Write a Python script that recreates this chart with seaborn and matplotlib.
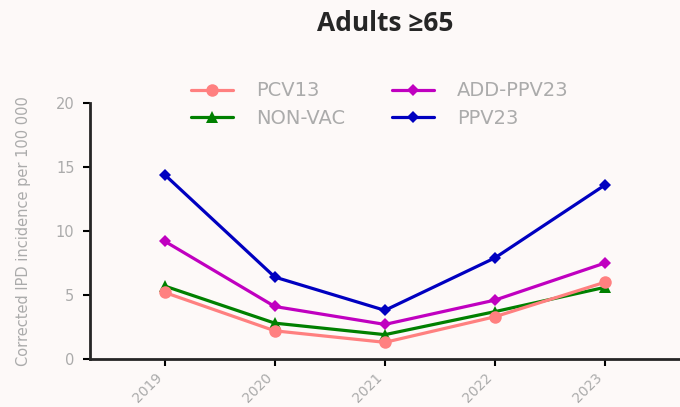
import pandas as pd
import numpy as np
import matplotlib
matplotlib.use("Agg")
import matplotlib.pyplot as plt
import seaborn as sns

# ─────────────────────────────────────────────
# Données
# ─────────────────────────────────────────────
years = [2019, 2020, 2021, 2022, 2023]
year_labels = ["2019", "2020", "2021", "2022", "2023"]
pcv13 = [5.2, 2.2, 1.3, 3.3, 6.0]
non_vac = [5.7, 2.8, 1.9, 3.7, 5.6]
add_ppv23 = [9.2, 4.1, 2.7, 4.6, 7.5]
ppv23 = [14.4, 6.4, 3.8, 7.9, 13.6]
series_names = ["PCV13", "NON-VAC", "ADD-PPV23", "PPV23"]

df = pd.DataFrame({
    "year": years * 4,
    "value": pcv13 + non_vac + add_ppv23 + ppv23,
    "series": np.repeat(series_names, len(years)),
})

# ─────────────────────────────────────────────
# Style
# ─────────────────────────────────────────────
sns.set_style("ticks")
plt.rcParams["font.family"] = ["DejaVu Sans"]
bg = "#fdf9f8"
grey = "#ababab"
palette = {"PCV13": "#ff8080", "NON-VAC": "#008000",
           "ADD-PPV23": "#c000c0", "PPV23": "#0000c0"}
markers = {"PCV13": "o", "NON-VAC": "^", "ADD-PPV23": "D", "PPV23": "D"}
msize = {"PCV13": 9, "NON-VAC": 8, "ADD-PPV23": 6.5, "PPV23": 6.5}

fig = plt.figure(figsize=(6.8, 4.07), dpi=100, facecolor=bg)
ax = fig.add_axes([0.132, 0.118, 0.868, 0.629], facecolor=bg)

for name in ["PPV23", "ADD-PPV23", "NON-VAC", "PCV13"]:
    sub = df[df["series"] == name]
    sns.lineplot(data=sub, x="year", y="value", ax=ax, color=palette[name],
                 marker=markers[name], markersize=msize[name], linewidth=2.3,
                 markeredgewidth=0, label=name, legend=False)

ax.set_xlim(2018.32, 2023.68)
ax.set_ylim(0, 20)
ax.set_yticks([0, 5, 10, 15, 20])
ax.set_xticks(years)
ax.set_xticklabels(year_labels, rotation=45, ha="right", color=grey, fontsize=10)
ax.tick_params(axis="y", labelcolor=grey, labelsize=10.5, pad=6)
ax.tick_params(width=1.5, length=5, color="black")
for s in ["left", "bottom"]:
    ax.spines[s].set_linewidth(2)
sns.despine(ax=ax)
ax.set_xlabel("")
ax.set_ylabel("Corrected IPD incidence per 100 000", color=grey, fontsize=10.5)
ax.yaxis.set_label_coords(-0.1, 0.5)

handles, labels = ax.get_legend_handles_labels()
order = [labels.index(n) for n in series_names]
leg = fig.legend([handles[i] for i in order], [labels[i] for i in order],
                 ncol=2, frameon=False, loc="upper left",
                 bbox_to_anchor=(0.255, 0.843), fontsize=14,
                 handlelength=2.15, handletextpad=1.2, columnspacing=2.4,
                 labelspacing=0.45)
for t in leg.get_texts():
    t.set_color(grey)

fig.text(0.567, 0.942, "Adults \u226565", ha="center", va="center",
         fontsize=19, fontweight="bold", family=["Open Sans", "DejaVu Sans"])

fig.savefig("out.png", dpi=100, facecolor=bg)
